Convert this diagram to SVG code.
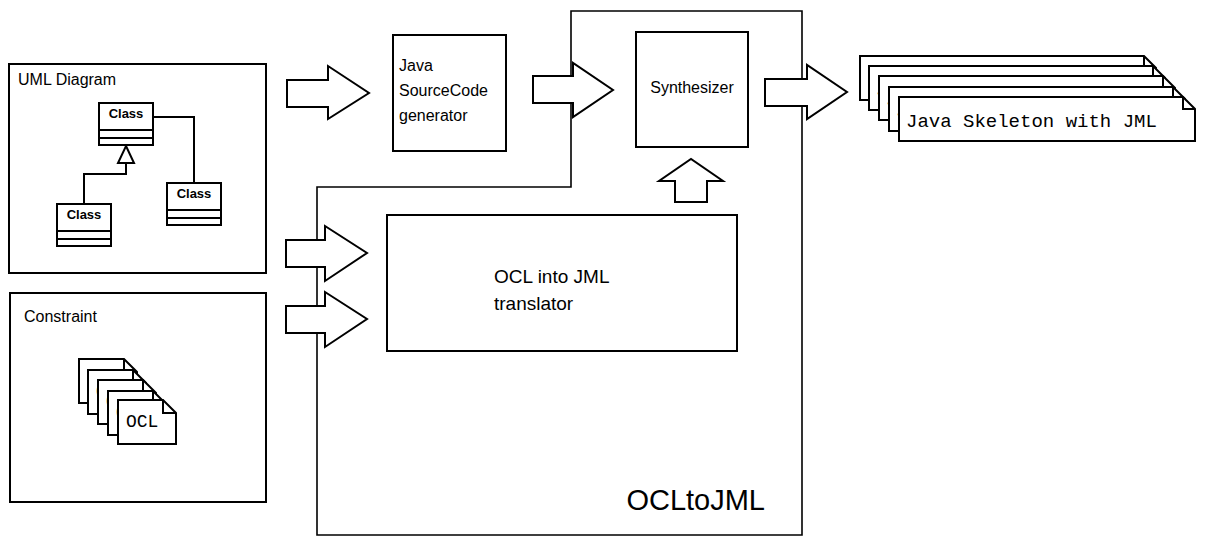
<svg xmlns="http://www.w3.org/2000/svg" width="1215" height="536" viewBox="0 0 1215 536">
  <style>
    .box { fill: #fff; stroke: #000; stroke-width: 2; }
    .frame { fill: none; stroke: #000; stroke-width: 1.6; }
    .line { fill: none; stroke: #000; stroke-width: 2; }
    .blk { fill: #fff; stroke: #000; stroke-width: 2; stroke-linejoin: miter; }
    .sans { font-family: "Liberation Sans", Arial, sans-serif; fill: #000; }
    .cls { font-family: "Liberation Sans", Arial, sans-serif; font-weight: bold; font-size: 13px; text-anchor: middle; }
    .mono { font-family: "Liberation Mono", "Courier New", monospace; fill: #000; }
  </style>
  <defs>
    <!-- small folded-corner document -->
    <g id="ocl-doc">
      <path class="box" d="M0,0 H45 L58,13 V44 H0 Z"/>
      <path class="line" d="M45,0 V13 H58" stroke-width="1.5"/>
      <text class="mono" x="8" y="27" font-size="18">OCL</text>
    </g>
    <!-- wide folded-corner document -->
    <g id="java-doc">
      <path class="box" d="M0,0 H284 L296,12 V44 H0 Z"/>
      <path class="line" d="M284,0 V12 H296" stroke-width="1.5"/>
      <text class="mono" x="7" y="30" font-size="19">Java Skeleton with JML</text>
    </g>
    <!-- UML class box -->
    <g id="uml-class">
      <rect class="box" x="0" y="0" width="54" height="42"/>
      <line class="line" x1="0" y1="27" x2="54" y2="27"/>
      <line class="line" x1="0" y1="35" x2="54" y2="35"/>
      <text class="cls" x="27" y="15">Class</text>
    </g>
  </defs>

  <!-- OCLtoJML container -->
  <g id="ocltojml">
    <polygon class="frame" points="571,11 802,11 802,535 317,535 317,187 571,187"/>
    <text class="sans" x="765" y="510" font-size="29" text-anchor="end">OCLtoJML</text>
  </g>

  <!-- UML diagram input -->
  <g id="uml-diagram">
    <rect class="box" x="9" y="64" width="257" height="209"/>
    <text class="sans" x="18" y="85" font-size="16">UML Diagram</text>
    <use href="#uml-class" x="99" y="103"/>
    <use href="#uml-class" x="57" y="204"/>
    <use href="#uml-class" x="167" y="183"/>
    <path class="line" d="M126,163 V174 H84 V204"/>
    <polygon class="box" points="126,146 134,163 118,163"/>
    <path class="line" d="M153,117 H194 V183"/>
  </g>

  <!-- Constraint input -->
  <g id="constraint">
    <rect class="box" x="10" y="293" width="256" height="209"/>
    <text class="sans" x="24" y="322" font-size="16">Constraint</text>
    <use href="#ocl-doc" x="79" y="359"/>
    <use href="#ocl-doc" x="88" y="370"/>
    <use href="#ocl-doc" x="98" y="380"/>
    <use href="#ocl-doc" x="108" y="391"/>
    <use href="#ocl-doc" x="118" y="400"/>
  </g>

  <!-- Java source code generator -->
  <g id="generator">
    <rect class="box" x="393" y="35" width="113" height="116"/>
    <text class="sans" font-size="16">
      <tspan x="399" y="71">Java</tspan>
      <tspan x="399" y="96">SourceCode</tspan>
      <tspan x="399" y="121">generator</tspan>
    </text>
  </g>

  <!-- Synthesizer -->
  <g id="synthesizer">
    <rect class="box" x="636" y="32" width="112" height="115"/>
    <text class="sans" x="692" y="93" font-size="16" text-anchor="middle">Synthesizer</text>
  </g>

  <!-- OCL into JML translator -->
  <g id="translator">
    <rect class="box" x="387" y="215" width="350" height="136"/>
    <text class="sans" font-size="19">
      <tspan x="494" y="283">OCL into JML</tspan>
      <tspan x="494" y="310">translator</tspan>
    </text>
  </g>

  <!-- Output documents -->
  <g id="java-skeletons">
    <use href="#java-doc" x="860" y="56"/>
    <use href="#java-doc" x="869" y="66"/>
    <use href="#java-doc" x="879" y="76"/>
    <use href="#java-doc" x="889" y="87"/>
    <use href="#java-doc" x="899" y="97"/>
  </g>

  <!-- Block arrows -->
  <g id="connectors">
    <polygon class="blk" points="287,80 328,80 328,66 369,93 328,119 328,107 287,107"/>
    <polygon class="blk" points="533,76 573,76 573,63 613,90 573,117 573,103 533,103"/>
    <polygon class="blk" points="765,79 807,79 807,65 847,92 807,119 807,106 765,106"/>
    <polygon class="blk" points="675,202 675,181 659,181 691,159 723,181 707,181 707,202"/>
    <polygon class="blk" points="286,240 325,240 325,226 367,253 325,281 325,267 286,267"/>
    <polygon class="blk" points="286,306 325,306 325,292 367,319 325,347 325,333 286,333"/>
  </g>
</svg>
